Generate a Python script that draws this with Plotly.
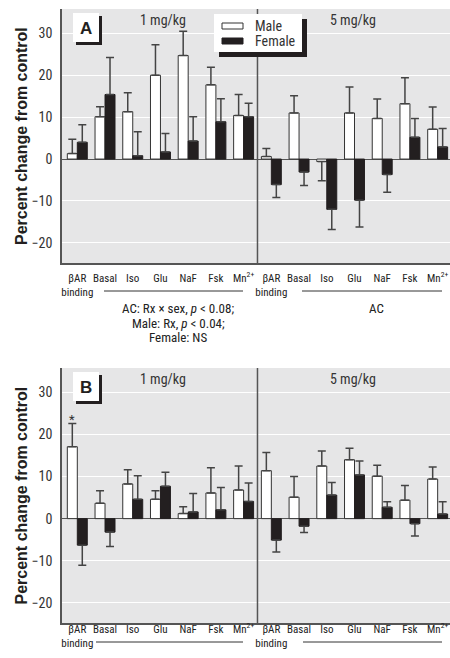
import plotly.graph_objects as go

# ---------------- data ----------------
categories = ["βAR<br>binding", "Basal", "Iso", "Glu", "NaF", "Fsk", "Mn<sup>2+</sup>"] * 2
doses = ["1 mg/kg", "5 mg/kg"]

male_a = [1.3, 10.1, 11.3, 20.0, 24.7, 17.7, 10.4, 0.6, 11.0, -0.6, 11.0, 9.7, 13.2, 7.1]
male_a_sem = [3.4, 2.4, 4.5, 7.3, 5.8, 4.2, 5.0, 1.9, 4.1, 4.6, 6.2, 4.6, 6.2, 5.3]
female_a = [4.0, 15.4, 0.8, 1.7, 4.3, 8.9, 10.1, -6.1, -3.1, -12.0, -9.8, -3.7, 5.2, 2.9]
female_a_sem = [4.2, 8.8, 5.7, 4.4, 5.8, 5.5, 3.2, 3.1, 3.2, 4.8, 6.4, 4.2, 4.5, 4.4]

male_b = [17.1, 3.65, 8.25, 4.6, 1.2, 6.1, 6.8, 11.4, 5.1, 12.5, 14.0, 10.1, 4.4, 9.4]
male_b_sem = [5.5, 2.95, 3.35, 2.0, 1.6, 6.0, 5.7, 4.3, 4.9, 3.6, 2.7, 2.6, 3.5, 2.9]
female_b = [-6.3, -3.2, 4.6, 7.7, 1.6, 2.1, 4.1, -5.1, -1.8, 5.6, 10.4, 2.7, -1.2, 1.1]
female_b_sem = [4.8, 3.4, 5.6, 3.3, 4.4, 5.3, 4.4, 2.8, 1.5, 3.0, 3.3, 1.3, 2.9, 2.9]

yticks = [-20, -10, 0, 10, 20, 30]

# ---------------- styling ----------------
FONT = "Liberation Sans Narrow, Arial Narrow, Roboto Condensed, Roboto, sans-serif"
BOLD = "Liberation Sans, Arial, sans-serif"
BG = "#e6e6e7"
DARK = "#231f20"
GRAY = "#555555"

W, H = 450, 658
L, R, T, B = 62, 450, 9, 623
A_TOP, A_BOT = 9, 263
B_TOP, B_BOT = 368, 623
PH = B - T


def px_x(px):
    return (px - L) / (R - L)


def px_y(py):
    return (B - py) / PH


xpos = list(range(len(categories)))
divider = (len(categories) - 1) / 2


def err(vals, sems):
    up = [s if v >= 0 else 0 for v, s in zip(vals, sems)]
    dn = [0 if v >= 0 else s for v, s in zip(vals, sems)]
    return dict(type="data", symmetric=False, array=up, arrayminus=dn,
                color="#444", thickness=1.5, width=4)


fig = go.Figure()
for (m, ms, f, fs, xa, ya) in [
    (male_a, male_a_sem, female_a, female_a_sem, "x", "y"),
    (male_b, male_b_sem, female_b, female_b_sem, "x2", "y2"),
]:
    fig.add_trace(go.Bar(x=xpos, y=m, name="Male", offsetgroup="m",
                         marker=dict(color="white", line=dict(color="#333333", width=1)),
                         error_y=err(m, ms), xaxis=xa, yaxis=ya, showlegend=False))
    fig.add_trace(go.Bar(x=xpos, y=f, name="Female", offsetgroup="f",
                         marker=dict(color=DARK, line=dict(color=DARK, width=1)),
                         error_y=err(f, fs), xaxis=xa, yaxis=ya, showlegend=False))

xr = [-0.552, 13.445]
yr = [-24.8, 35.8]
a_dom = [px_y(A_BOT), 1]
b_dom = [0, px_y(B_TOP)]

xcommon = dict(range=xr, tickvals=xpos, ticktext=categories, showgrid=False,
               zeroline=False, showline=True, linecolor=GRAY, linewidth=1.5,
               ticks="", tickangle=0, automargin=False,
               tickfont=dict(family=FONT, size=11, color="#222"))
ycommon = dict(range=yr, tickvals=yticks, showgrid=True, gridcolor="white",
               gridwidth=1, zeroline=True, zerolinecolor=GRAY, zerolinewidth=1,
               showline=True, linecolor=GRAY, linewidth=1.5, ticks="",
               ticklabelstandoff=5, automargin=False,
               tickfont=dict(family=FONT, size=14, color="#333"))

fig.update_layout(
    width=W, height=H,
    margin=dict(l=L, r=W - R, t=T, b=H - B),
    paper_bgcolor="white", plot_bgcolor=BG,
    barmode="group", bargap=0.28, bargroupgap=0,
    xaxis=dict(xcommon, anchor="y", ticklabelstandoff=4),
    yaxis=dict(ycommon, domain=a_dom, anchor="x"),
    xaxis2=dict(xcommon, anchor="y2", ticklabelstandoff=-5),
    yaxis2=dict(ycommon, domain=b_dom, anchor="x2"),
    font=dict(family=FONT, color="#333"),
)

shapes = []
ann = []


def rect(x0, y0, x1, y1, fill, line=None):
    shapes.append(dict(type="rect", xref="paper", yref="paper", x0=px_x(x0), x1=px_x(x1),
                       y0=px_y(y1), y1=px_y(y0), fillcolor=fill,
                       line=line if line else dict(width=0)))


def hline(x0, x1, y):
    shapes.append(dict(type="line", xref="paper", yref="paper", x0=px_x(x0), x1=px_x(x1),
                       y0=px_y(y), y1=px_y(y), line=dict(color="#333", width=1)))


def text(x, y, t, size=13, family=FONT, xanchor="center", **kw):
    ann.append(dict(xref="paper", yref="paper", x=px_x(x), y=px_y(y), text=t,
                    xanchor=xanchor, yanchor="middle", showarrow=False,
                    font=dict(family=family, size=size, color=kw.pop("color", "#333")), **kw))


for xa, ya, label, ytop, ybot in [("x", "y", "A", A_TOP, A_BOT), ("x2", "y2", "B", B_TOP, B_BOT)]:
    # divider between doses
    shapes.append(dict(type="line", xref=xa, yref="paper", x0=divider, x1=divider,
                       y0=px_y(ybot), y1=px_y(ytop), line=dict(color=GRAY, width=1.5)))
    off = ytop - A_TOP
    rect(76, 16 + off, 102, 45 + off, DARK)
    rect(73, 13 + off, 99, 42 + off, "white")
    text(86, 28 + off, f"<b>{label}</b>", size=17, family=BOLD, color=DARK)
    for d, cx in zip(doses, [163, 353]):
        text(cx, 20 + off, d, size=14)
    text(21, (ytop + ybot) / 2, "<b>Percent change from control</b>", size=16,
         family=BOLD, color=DARK, textangle=-90)

# AC bracket lines under tick labels
hline(104, 243, 291)
hline(302, 442, 291)
hline(96, 243, 642)
hline(303, 442, 642)

# legend (panel A)
rect(219, 19, 307, 57, DARK)
rect(214, 14, 302, 52, "white")
rect(222, 23, 243, 29, "white", dict(color="#333", width=1))
rect(222, 38, 243, 44, DARK, dict(color=DARK, width=1))
text(253, 26, "Male", size=14, xanchor="left")
text(253, 41, "Female", size=14, xanchor="left")

# statistics text below panel A
for t, yy in [("AC: Rx × sex, <i>p</i> < 0.08;", 308), ("Male: Rx, <i>p</i> < 0.04;", 323),
              ("Female: NS", 337)]:
    text(178, yy, t, size=13, color="#222")
text(376, 308, "AC", size=13, color="#222")

# significance asterisk (panel B, βAR binding, male 1 mg/kg)
ann.append(dict(xref="x2", yref="y2", x=xpos[0] - 0.18, y=male_b[0] + male_b_sem[0], text="*",
                showarrow=False, yanchor="bottom", yshift=-5,
                font=dict(family=FONT, size=13, color="#333")))

fig.update_layout(shapes=shapes, annotations=ann)
fig.write_html("out.html", config={"displayModeBar": False},
               post_script="document.body.style.margin='0';")
